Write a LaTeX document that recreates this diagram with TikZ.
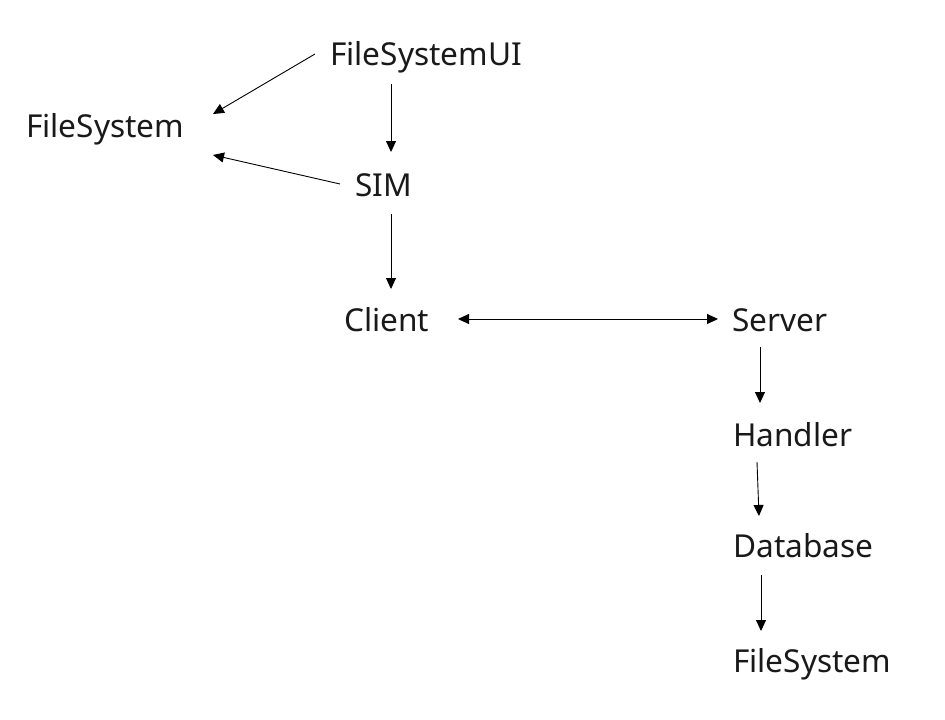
\documentclass[tikz,border=0pt]{standalone}
\usepackage{fontspec}
\setmainfont{Noto Sans}
\usetikzlibrary{arrows.meta}
\begin{document}
\begin{tikzpicture}[x=1pt,y=-1pt,
  lbl/.style={anchor=base west,inner sep=0pt,font=\fontsize{31.6}{38}\selectfont,text=black!90},
  arr/.style={draw=black,line width=0.9pt,-{Triangle[length=11pt,width=10pt]}},
  darr/.style={draw=black,line width=0.9pt,{Triangle[length=11pt,width=10pt]}-{Triangle[length=11pt,width=10pt]}}]
\useasboundingbox (0,0) rectangle (945,720);
\node[lbl] (fsui) at (330,65) {FileSystemUI};
\node[lbl] (fs1) at (26,137) {FileSystem};
\node[lbl] (sim) at (355,196) {SIM};
\node[lbl] (client) at (344,331) {Client};
\node[lbl] (server) at (732,331) {Server};
\node[lbl] (handler) at (733,446) {Handler};
\node[lbl] (db) at (733,557) {Database};
\node[lbl] (fs2) at (733,672) {FileSystem};
% connector ends
\coordinate (a1s) at (315,54);  \coordinate (a1e) at (213,114);
\coordinate (a2s) at (391,84);  \coordinate (a2e) at (391,152);
\coordinate (a3s) at (340,184); \coordinate (a3e) at (213,155);
\coordinate (a4s) at (391,214); \coordinate (a4e) at (391,289);
\coordinate (a5s) at (458,319); \coordinate (a5e) at (718,319);
\coordinate (a6s) at (760,347); \coordinate (a6e) at (760,403);
\coordinate (a7s) at (757,462); \coordinate (a7e) at (759,516);
\coordinate (a8s) at (761,575); \coordinate (a8e) at (761,631);
\draw[arr] (a1s) -- (a1e);
\draw[arr] (a2s) -- (a2e);
\draw[arr] (a3s) -- (a3e);
\draw[arr] (a4s) -- (a4e);
\draw[darr] (a5s) -- (a5e);
\draw[arr] (a6s) -- (a6e);
\draw[arr] (a7s) -- (a7e);
\draw[arr] (a8s) -- (a8e);
\end{tikzpicture}
\end{document}
